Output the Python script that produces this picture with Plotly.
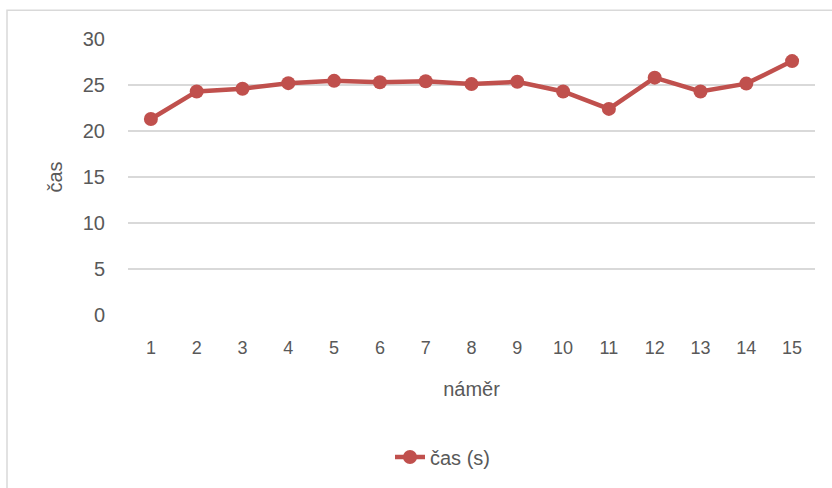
import plotly.graph_objects as go

# measurement number and time
namer = [str(i) for i in range(1, 16)]
cas = [21.3, 24.3, 24.6, 25.2, 25.45, 25.3, 25.4, 25.1, 25.35, 24.3, 22.4, 25.8, 24.3, 25.15, 27.6]
y_ticks = [0, 5, 10, 15, 20, 25, 30]

RED = "#c0504d"
TXT = "#595959"
FONT = "Liberation Sans"

fig = go.Figure()
fig.add_trace(go.Scatter(
    x=namer, y=cas, name="čas (s)", mode="lines+markers",
    line=dict(color=RED, width=4.5),
    marker=dict(color=RED, size=14),
))

L, R, T, B = 128, 17, 39, 171
W, H = 832, 488
pw, ph = W - L - R, H - T - B

fig.update_layout(
    width=W, height=H,
    margin=dict(l=L, r=R, t=T, b=B),
    paper_bgcolor="white", plot_bgcolor="white",
    font=dict(family=FONT, size=18, color=TXT),
    showlegend=True,
    legend=dict(orientation="h", x=(390 - L) / pw, xanchor="left",
                y=(H - B - 460) / ph, yanchor="middle",
                font=dict(size=20, color=TXT)),
    xaxis=dict(type="category", range=[-0.5, 14.5], showgrid=False,
               showline=False, ticks="", ticklabelstandoff=20,
               tickfont=dict(size=18),
               title=dict(text="náměr", font=dict(size=20, color=TXT), standoff=24)),
    yaxis=dict(range=[0, 30], tickvals=y_ticks, showgrid=True,
               gridcolor="#d9d9d9", gridwidth=1.5, zeroline=False,
               showline=False, ticks="", ticklabelstandoff=22,
               tickfont=dict(size=20),
               title=dict(text="čas", font=dict(size=20, color=TXT), standoff=14)),
    shapes=[dict(type="rect", xref="paper", yref="paper",
                 x0=(7 - L) / pw, x1=(W + 5 - L) / pw,
                 y0=(H - B - (H + 5)) / ph, y1=(H - B - 10) / ph,
                 line=dict(color="#d9d9d9", width=1.5), layer="below")],
)

fig.write_html("out.html")
